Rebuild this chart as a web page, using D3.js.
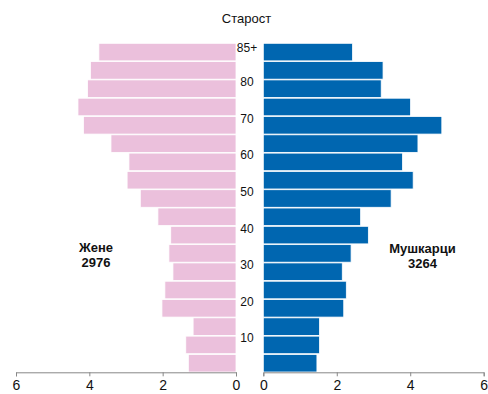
<!DOCTYPE html>
<html><head><meta charset="utf-8">
<script src="https://cdn.jsdelivr.net/npm/d3@7"></script>
<style>body{margin:0;background:#fff}svg{display:block}text{font-family:"Liberation Sans",Arial,sans-serif}</style>
</head><body>
<script>
const ageGroups = ["85+","80-84","75-79","70-74","65-69","60-64","55-59","50-54","45-49","40-44","35-39","30-34","25-29","20-24","15-19","10-14","5-9","0-4"];
const women = [3.74,3.97,4.05,4.31,4.16,3.41,2.92,2.97,2.61,2.13,1.78,1.83,1.72,1.94,2.02,1.17,1.37,1.30];
const men = [2.43,3.26,3.21,4.01,4.86,4.21,3.79,4.08,3.48,2.65,2.86,2.39,2.15,2.26,2.19,1.53,1.53,1.46];
const tickValues = [0,2,4,6];
const ageLabels = ["85+","80","70","60","50","40","30","20","10"];
const ageLabelGroups = ["85+","80-84","70-74","60-64","50-54","40-44","30-34","20-24","10-14"];
const title = "Старост";
const womenLabel = ["Жене","2976"];
const menLabel = ["Мушкарци","3264"];

const W = 488, H = 394;
const svg = d3.select("body").append("svg").attr("width",W).attr("height",H);

const y = d3.scaleBand().domain(ageGroups).range([43.3, 372]).paddingInner(0.04);
const xl = d3.scaleLinear().domain([0,6]).range([236,16]);
const xr = d3.scaleLinear().domain([0,6]).range([263.3,483.7]);

svg.append("g").selectAll("rect").data(ageGroups).join("rect")
  .attr("x",(d,i)=>xl(women[i])).attr("y",d=>y(d))
  .attr("width",(d,i)=>xl(0)-xl(women[i])).attr("height",y.bandwidth())
  .attr("fill","#ebc0dc").attr("stroke","#fff").attr("stroke-width",0.8);
svg.append("g").selectAll("rect").data(ageGroups).join("rect")
  .attr("x",xr(0)).attr("y",d=>y(d))
  .attr("width",(d,i)=>xr(men[i])-xr(0)).attr("height",y.bandwidth())
  .attr("fill","#0066b0").attr("stroke","#fff").attr("stroke-width",0.8);

function styleAxis(g){
  g.select(".domain").attr("stroke","#888");
  g.selectAll(".tick line").attr("stroke","#888");
  g.selectAll(".tick text").attr("font-size",14).attr("fill","#111")
    .attr("font-family","Liberation Sans, Arial, sans-serif");
}
svg.append("g").attr("transform","translate(0,372.3)")
  .call(d3.axisBottom(xl).tickValues(tickValues).tickFormat(d3.format("d")).tickSize(4).tickSizeOuter(4).tickPadding(4))
  .call(styleAxis);
svg.append("g").attr("transform","translate(0,372.3)")
  .call(d3.axisBottom(xr).tickValues(tickValues).tickFormat(d3.format("d")).tickSize(4).tickSizeOuter(4).tickPadding(4))
  .call(styleAxis);

// age labels
svg.append("g").selectAll("text").data(ageLabels).join("text")
  .attr("x",247)
  .attr("y",(d,i)=> d==="85+" ? y(ageLabelGroups[i]) + 9 : y(ageLabelGroups[i]) + y.step() + 6.3)
  .attr("text-anchor","middle").attr("font-size",12).attr("fill","#111")
  .text(d=>d);

svg.append("text").attr("x",246.5).attr("y",22.5).attr("text-anchor","middle")
  .attr("font-size",13).attr("fill","#111").text(title);

svg.append("g").selectAll("text").data(womenLabel).join("text")
  .attr("x",96).attr("y",(d,i)=>252+i*15.3).attr("text-anchor","middle")
  .attr("font-size",13).attr("font-weight","bold").attr("fill","#111").text(d=>d);
svg.append("g").selectAll("text").data(menLabel).join("text")
  .attr("x",422.5).attr("y",(d,i)=>253+i*15.3).attr("text-anchor","middle")
  .attr("font-size",13).attr("font-weight","bold").attr("fill","#111").text(d=>d);
</script>
</body></html>
